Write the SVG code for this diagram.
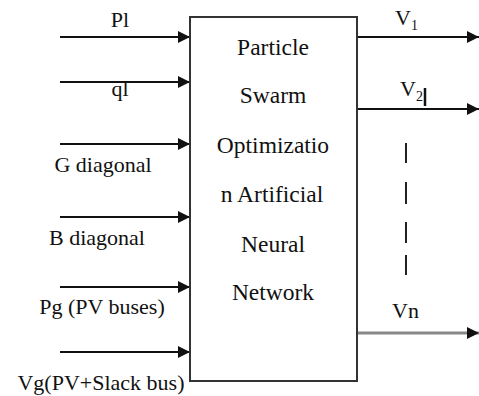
<svg xmlns="http://www.w3.org/2000/svg" width="479" height="396" viewBox="0 0 479 396">
<style>
text{fill:#111}
.lbl{font-size:22px;text-anchor:middle}
.box{font-size:23.5px;text-anchor:middle}
.ar{stroke:#111;stroke-width:2;fill:none}
</style>
<defs>
<marker id="ah" viewBox="0 0 12 12" refX="12" refY="6" markerWidth="12" markerHeight="12" markerUnits="userSpaceOnUse" orient="auto">
<path d="M0,0 L12,6 L0,12 Z" fill="#111"/>
</marker>
</defs>
<g id="connectors">
<line class="ar" x1="60" y1="37" x2="190" y2="37" marker-end="url(#ah)"/>
<line class="ar" x1="60" y1="82" x2="190" y2="82" marker-end="url(#ah)"/>
<line class="ar" x1="60" y1="144" x2="190" y2="144" marker-end="url(#ah)"/>
<line class="ar" x1="60" y1="217" x2="190" y2="217" marker-end="url(#ah)"/>
<line class="ar" x1="60" y1="287" x2="190" y2="287" marker-end="url(#ah)"/>
<line class="ar" x1="60" y1="352" x2="190" y2="352" marker-end="url(#ah)"/>
<line class="ar" x1="357" y1="37" x2="479" y2="37" marker-end="url(#ah)"/>
<line class="ar" x1="357" y1="109" x2="479" y2="109" marker-end="url(#ah)"/>
<line x1="357" y1="333" x2="479" y2="333" stroke="#888" stroke-width="3" marker-end="url(#ah)"/>
<g stroke="#222" stroke-width="2">
<line x1="406" y1="143" x2="406" y2="163"/>
<line x1="406" y1="182" x2="406" y2="204"/>
<line x1="406" y1="222" x2="406" y2="243"/>
<line x1="406" y1="255" x2="406" y2="275"/>
</g>
</g>
<g id="labels-in" font-family="Liberation Serif, DejaVu Serif, serif">
<text class="lbl" x="120" y="27">Pl</text>
<text class="lbl" x="120" y="96">ql</text>
<text class="lbl" x="103" y="172">G diagonal</text>
<text class="lbl" x="97" y="245">B diagonal</text>
<text class="lbl" x="102" y="314">Pg (PV buses)</text>
<text class="lbl" x="101" y="390">Vg(PV+Slack bus)</text>
</g>
<g id="pso-ann" font-family="Liberation Serif, DejaVu Serif, serif">
<rect x="190" y="17" width="167" height="364" fill="#fff" stroke="#333" stroke-width="2"/>
<text class="box" x="273" y="55">Particle</text>
<text class="box" x="273" y="103">Swarm</text>
<text class="box" x="273" y="153">Optimizatio</text>
<text class="box" x="272" y="202">n Artificial</text>
<text class="box" x="273" y="252">Neural</text>
<text class="box" x="273" y="300">Network</text>
</g>
<g id="labels-out" font-family="Liberation Serif, DejaVu Serif, serif">
<text x="395" y="25" font-size="22px">V<tspan font-size="14px" dy="5">1</tspan></text>
<text x="400" y="96" font-size="22px">V<tspan font-size="14px" dy="5">2</tspan></text>
<line x1="425" y1="88" x2="425" y2="106" stroke="#111" stroke-width="2.5"/>
<text x="392" y="318" font-size="22px">Vn</text>
</g>
</svg>
